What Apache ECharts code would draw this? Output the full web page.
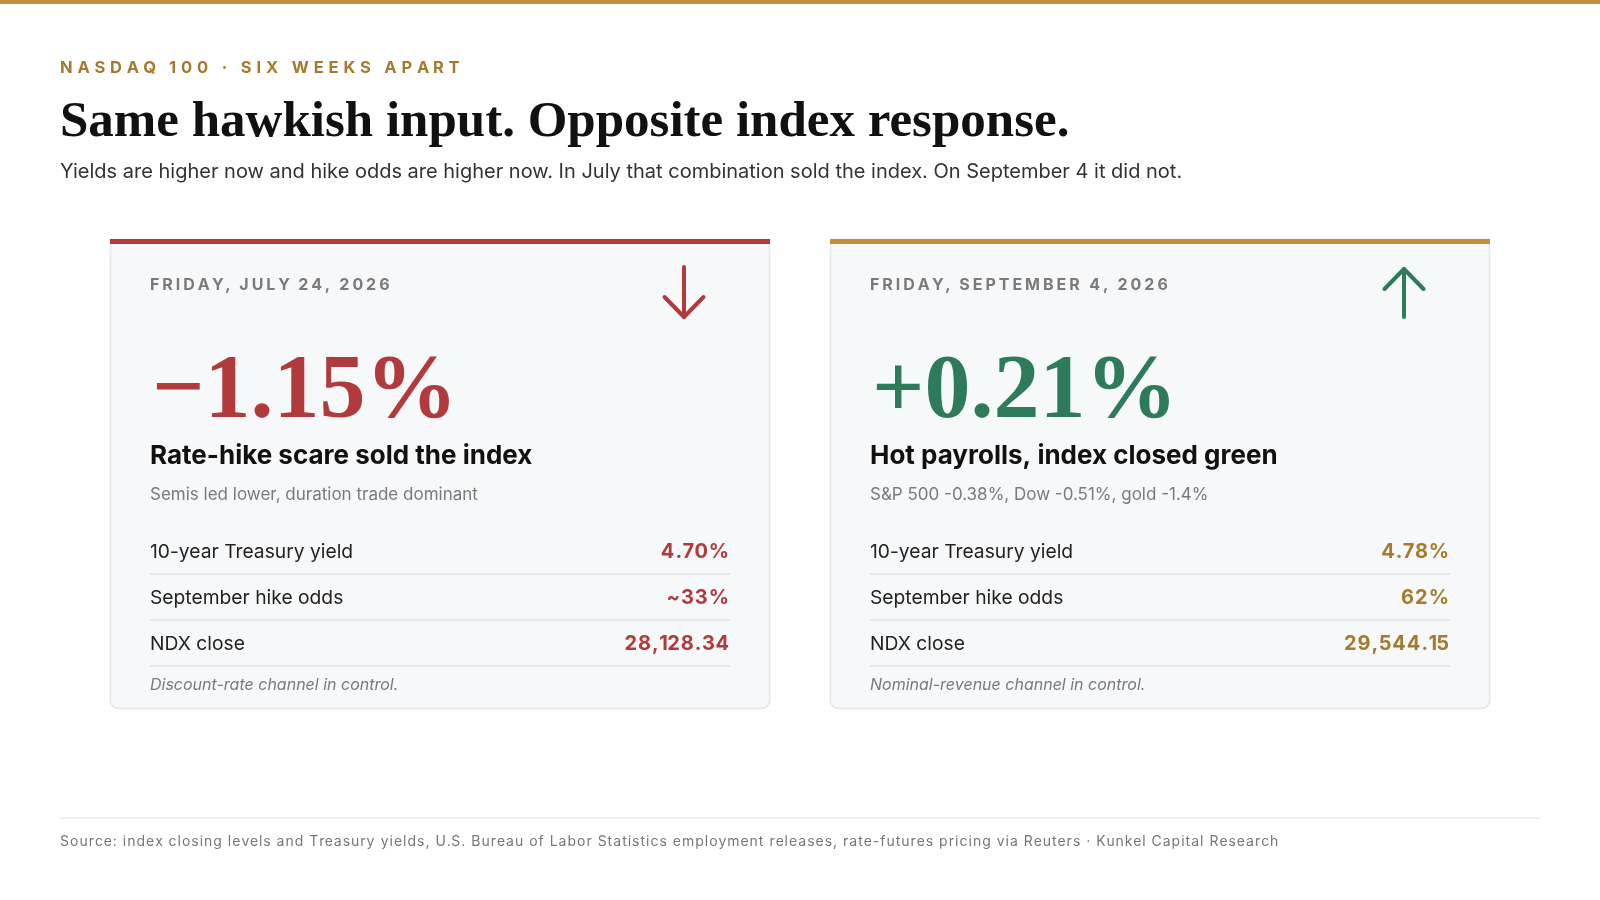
<!DOCTYPE html>
<html>
<head>
<meta charset="utf-8">
<script src="https://cdn.jsdelivr.net/npm/echarts@6/dist/echarts.min.js"></script>
<style>
html,body{margin:0;padding:0;background:#ffffff;}
#chart{width:1600px;height:900px;}
</style>
</head>
<body>
<div id="chart"></div>
<script>
// ---- data ----
const kicker = 'NASDAQ 100 · SIX WEEKS APART';
const title = 'Same hawkish input. Opposite index response.';
const subtitle = 'Yields are higher now and hike odds are higher now. In July that combination sold the index. On September 4 it did not.';
const cardDates = ['FRIDAY, JULY 24, 2026', 'FRIDAY, SEPTEMBER 4, 2026'];
const ndxChangePct = [-1.15, 0.21];
const headlines = ['Rate-hike scare sold the index', 'Hot payrolls, index closed green'];
const sublines = ['Semis led lower, duration trade dominant', 'S&P 500 -0.38%, Dow -0.51%, gold -1.4%'];
const rowLabels = ['10-year Treasury yield', 'September hike odds', 'NDX close'];
const treasuryYield = ['4.70%', '4.78%'];
const hikeOdds = ['~33%', '62%'];
const ndxClose = ['28,128.34', '29,544.15'];
const notes = ['Discount-rate channel in control.', 'Nominal-revenue channel in control.'];
const source = 'Source: index closing levels and Treasury yields, U.S. Bureau of Labor Statistics employment releases, rate-futures pricing via Reuters · Kunkel Capital Research';

// ---- styling ----
const RED = '#b03a3c';
const GREEN = '#2e7b5b';
const GOLD_BAR = '#c0913b';
const GOLD_TXT = '#a57a2c';
const SANS = 'Inter, "Noto Sans", sans-serif';
const SERIF = '"Liberation Serif", "DejaVu Serif", serif';

const mctx = document.createElement('canvas').getContext('2d');
function spaced(str, x, y, font, fill, sp, alignRight) {
  mctx.font = font;
  const chars = Array.from(str);
  const total = mctx.measureText(str).width + (chars.length - 1) * sp;
  const startX = alignRight ? x - total : x;
  const kids = [];
  let prefix = '';
  chars.forEach((ch, i) => {
    const cx = startX + mctx.measureText(prefix).width + i * sp;
    kids.push({type: 'text', x: cx, y: y, silent: true,
      style: {text: ch, font: font, fill: fill, textVerticalAlign: 'middle', textAlign: 'left'}});
    prefix += ch;
  });
  return {type: 'group', children: kids};
}
function txt(str, x, y, font, fill, align) {
  return {type: 'text', x: x, y: y, silent: true,
    style: {text: str, font: font, fill: fill, textAlign: align || 'left', textVerticalAlign: 'middle'}};
}
function fmtPct(v) {
  return (v < 0 ? '\u2212' : '+') + Math.abs(v).toFixed(2) + '%';
}

const graphics = [];
// top gold rule
graphics.push({type: 'rect', shape: {x: 0, y: 0, width: 1600, height: 4}, style: {fill: GOLD_BAR}});
graphics.push(spaced(kicker, 60, 68.5, '700 16.5px ' + SANS, GOLD_TXT, 4.85));
graphics.push(txt(title, 60, 123, 'bold 51px ' + SERIF, '#111111'));
graphics.push(txt(subtitle, 60, 171.5, '400 20px ' + SANS, '#333333'));

const cardX = [110, 830];
const cardW = 660;
const cardTop = 239;
const cardH = 470;
const accent = [RED, GOLD_BAR];
const moveColor = [RED, GREEN];
const valColor = [RED, GOLD_TXT];

for (let c = 0; c < 2; c++) {
  const x0 = cardX[c];
  const L = x0 + 40;
  const R = x0 + cardW - 40;
  graphics.push({type: 'rect', shape: {x: x0 + 0.5, y: cardTop + 0.5, width: cardW - 1, height: cardH - 1, r: [0, 0, 8, 8]},
    style: {fill: '#f7f8fa', stroke: '#e3e6ea', lineWidth: 1.5}});
  graphics.push({type: 'rect', shape: {x: x0, y: cardTop, width: cardW, height: 5}, style: {fill: accent[c]}});
  graphics.push(spaced(cardDates[c], L, 285, '700 16px ' + SANS, '#7a7a7a', 2.95));
  // arrow
  const ax = x0 + cardW - 86;
  const down = ndxChangePct[c] < 0;
  const tipY = down ? 317 : 269;
  const tailY = down ? 267 : 317;
  const headY = down ? 297 : 289;
  graphics.push({type: 'polyline', shape: {points: [[ax, tailY], [ax, tipY]]},
    style: {stroke: moveColor[c], lineWidth: 4, lineCap: 'round', fill: null}});
  graphics.push({type: 'polyline', shape: {points: [[ax - 19.5, headY], [ax, tipY], [ax + 19.5, headY]]},
    style: {stroke: moveColor[c], lineWidth: 4, lineCap: 'round', lineJoin: 'round', fill: null}});
  // big move
  graphics.push({type: 'text', x: L + 2, y: 439, silent: true,
    style: {text: fmtPct(ndxChangePct[c]), font: 'bold 92px ' + SERIF, fill: moveColor[c], textAlign: 'left', textVerticalAlign: 'bottom'}});
  graphics.push(txt(headlines[c], L, 456, '700 26px ' + SANS, '#111111'));
  graphics.push(txt(sublines[c], L, 495, '400 17px ' + SANS, '#7a7a7a'));
  const vals = [treasuryYield[c], hikeOdds[c], ndxClose[c]];
  for (let r = 0; r < 3; r++) {
    const yy = 552 + r * 46;
    graphics.push(txt(rowLabels[r], L, yy, '400 19.25px ' + SANS, '#222222'));
    graphics.push(spaced(vals[r], R - 1, yy, '700 20px ' + SANS, valColor[c], 1.0, true));
    graphics.push({type: 'rect', shape: {x: L, y: yy + 21, width: R - L, height: 2}, style: {fill: '#e6e8eb'}});
  }
  graphics.push(txt(notes[c], L, 685, 'italic 400 16px ' + SANS, '#7a7a7a'));
}

graphics.push({type: 'rect', shape: {x: 60, y: 817.5, width: 1480, height: 1}, style: {fill: '#e2e2e2'}});
graphics.push(spaced(source, 60, 842, '400 14px ' + SANS, '#777777', 1.0));

const chart = echarts.init(document.getElementById('chart'), null, {renderer: 'canvas'});
chart.setOption({
  backgroundColor: '#ffffff',
  animation: false,
  graphic: graphics
});
</script>
</body>
</html>
